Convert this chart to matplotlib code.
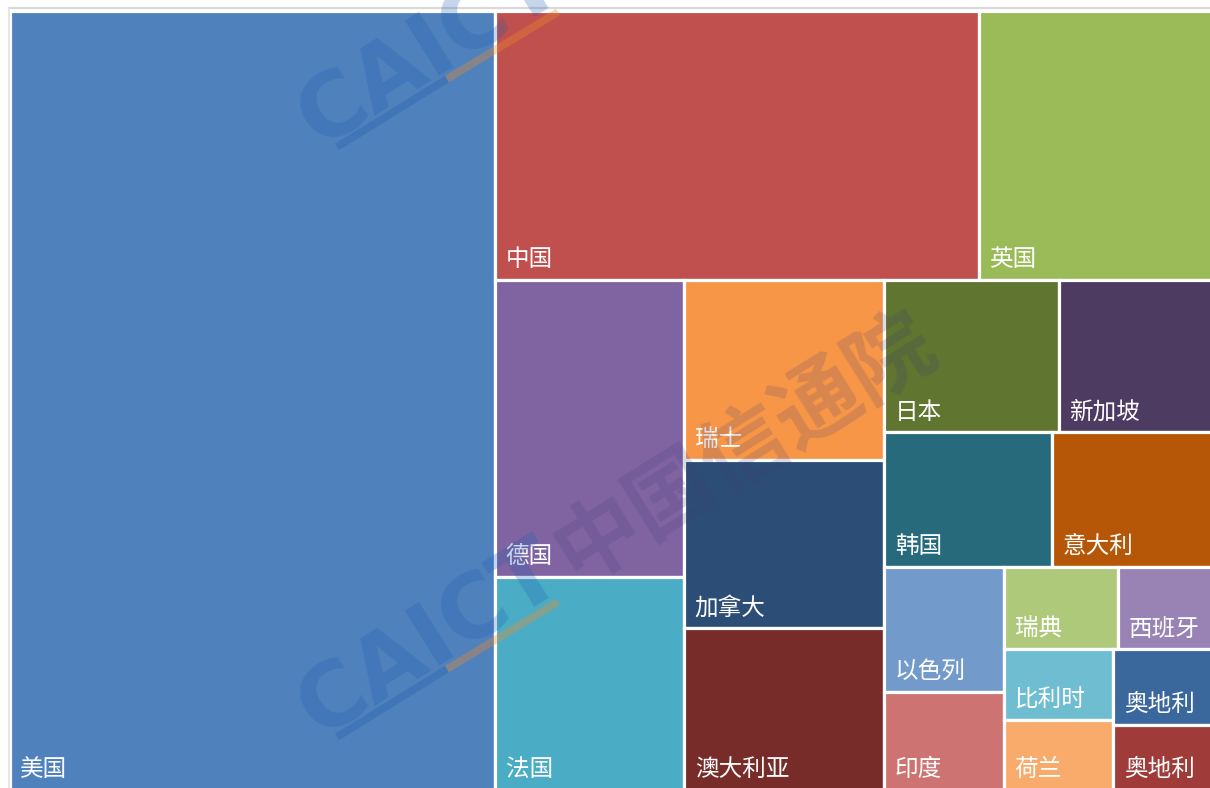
import matplotlib
matplotlib.use('Agg')
import matplotlib.pyplot as plt
from matplotlib.patches import Rectangle
from matplotlib.lines import Line2D

# ---- data ----
countries = ['美国', '中国', '英国', '德国', '法国', '瑞士', '加拿大', '澳大利亚',
             '日本', '新加坡', '韩国', '意大利', '以色列', '印度', '瑞典', '西班牙',
             '比利时', '荷兰', '奥地利', '奥地利']
values = [40.4, 13.9, 6.7, 6.0, 4.3, 3.85, 3.6, 3.45,
          2.85, 2.5, 2.4, 2.3, 1.6, 1.25, 1.0, 0.83,
          0.83, 0.81, 0.8, 0.68]
colors = ['#4F81BD', '#C0504D', '#9BBB59', '#8064A2', '#4BACC6', '#F79646',
          '#2C4D75', '#772C2A', '#5F7530', '#4D3B62', '#276A7C', '#B65708',
          '#729ACA', '#CD7371', '#AFC97A', '#9983B5', '#6FBDD1', '#F9AB6B',
          '#3A679C', '#9F3B38']

CJK = ['Noto Sans CJK SC', 'DejaVu Sans']


def worst(row, w):
    s = sum(row)
    return max(w * w * max(row) / (s * s), (s * s) / (w * w * min(row)))


def squarify(sizes, x, y, dx, dy):
    rects = []
    sizes = list(sizes)
    while sizes:
        w = min(dx, dy)
        row = [sizes[0]]
        i = 1
        while i < len(sizes) and worst(row + [sizes[i]], w) <= worst(row, w):
            row.append(sizes[i])
            i += 1
        sizes = sizes[i:]
        s = sum(row)
        if dx >= dy:
            cw = s / dy
            yy = y
            for r in row:
                h = r / cw
                rects.append((x, yy, cw, h))
                yy += h
            x += cw
            dx -= cw
        else:
            rh = s / dx
            xx = x
            for r in row:
                ww = r / rh
                rects.append((xx, y, ww, rh))
                xx += ww
            y += rh
            dy -= rh
    return rects


FW, FH = 1210, 788
fig = plt.figure(figsize=(FW / 100, FH / 100), dpi=100)
fig.patch.set_facecolor('white')

W, H = 1202.5, 779.0
ax = fig.add_axes([9.5 / FW, (FH - 789.5) / FH, W / FW, H / FH])
ax.set_xlim(0, W)
ax.set_ylim(H, 0)
ax.axis('off')

total = sum(values)
scaled = [v / total * W * H for v in values]
rects = squarify(scaled, 0, 0, W, H)

for (x0, y0, w, h), name, c in zip(rects, countries, colors):
    ax.add_patch(Rectangle((x0, y0), w, h, facecolor=c, edgecolor='white',
                           linewidth=2.3, clip_on=False))
    ax.annotate(name, xy=(x0, y0 + h), xytext=(10.5 * 0.72, 13.5 * 0.72),
                textcoords='offset points', color='white', fontsize=17,
                ha='left', va='baseline', family=CJK, annotation_clip=False)

# frame lines
fig.add_artist(Line2D([8.5 / FW, 1.0], [1 - 7.5 / FH, 1 - 7.5 / FH],
                      transform=fig.transFigure, color='#D9D9D9', linewidth=1.6))
fig.add_artist(Line2D([8.5 / FW, 8.5 / FW], [0, 1 - 7.5 / FH],
                      transform=fig.transFigure, color='#E3E3E3', linewidth=1.2))

# watermark
def px(x, y):
    return x / FW, 1 - y / FH

for k, dy in enumerate((0, -590)):
    cx, cy = px(430, 640 + dy)
    fig.text(cx, cy, 'CAICT', rotation=32, rotation_mode='anchor', ha='center',
             va='center', fontsize=64, fontweight='bold', family='DejaVu Sans',
             color='#1F5FAF', alpha=0.26)
    x1, y1 = px(337, 737 + dy)
    xm, ym = px(447, 669 + dy)
    x2, y2 = px(558, 602 + dy)
    fig.add_artist(Line2D([x1, xm], [y1, ym], transform=fig.transFigure,
                          color='#1F5FAF', linewidth=5.5, alpha=0.3,
                          solid_capstyle='butt'))
    fig.add_artist(Line2D([xm, x2], [ym, y2], transform=fig.transFigure,
                          color='#F08C28', linewidth=5.5, alpha=0.35,
                          solid_capstyle='butt'))
    if k == 0:
        tx, ty = px(745, 448 + dy)
        fig.text(tx, ty, '中国信通院', rotation=32, rotation_mode='anchor',
                 ha='center', va='center', fontsize=62, fontweight='bold',
                 family=CJK, color='#3C3C78', alpha=0.18)

fig.savefig('out.png', dpi=100)
